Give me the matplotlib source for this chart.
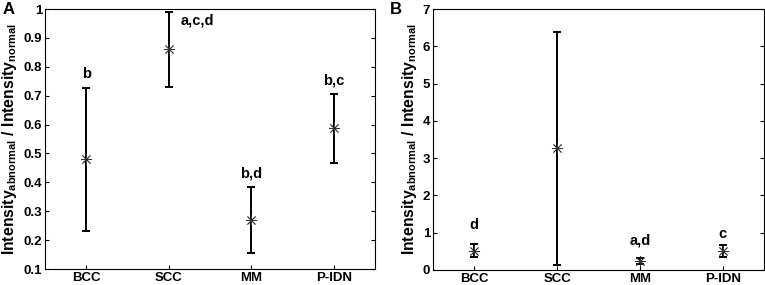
import numpy as np
import matplotlib.pyplot as plt

plt.rcParams['font.family'] = 'Liberation Sans'
plt.rcParams['font.weight'] = 'bold'
plt.rcParams['mathtext.fontset'] = 'custom'
plt.rcParams['mathtext.rm'] = 'Liberation Sans:bold'
plt.rcParams['mathtext.bf'] = 'Liberation Sans:bold'
plt.rcParams['mathtext.it'] = 'Liberation Sans:bold'

groups = ['BCC', 'SCC', 'MM', 'P-IDN']

# panel A
a_mean = [0.48, 0.86, 0.27, 0.587]
a_low = [0.23, 0.73, 0.155, 0.468]
a_high = [0.727, 0.99, 0.385, 0.705]
a_labels = ['b', '', 'b,d', 'b,c']
a_label_y = [0.775, 0, 0.43, 0.752]

# panel B
b_mean = [0.52, 3.27, 0.25, 0.52]
b_low = [0.36, 0.13, 0.17, 0.36]
b_high = [0.70, 6.39, 0.31, 0.68]
b_labels = ['d', '', 'a,d', 'c']
b_label_y = [1.22, 0, 0.8, 0.97]

fig = plt.figure(figsize=(7.65, 2.85), dpi=100)
ax1 = fig.add_axes([45 / 765, 16 / 285, 330 / 765, 260 / 285])
ax2 = fig.add_axes([433 / 765, 15 / 285, 331 / 765, 261 / 285])

ylabel = r'$\mathbf{Intensity_{abnormal}\ /\ Intensity_{normal}}$'
x = np.arange(1, 5)


def draw(ax, mean, low, high, labels, label_y):
    mean = np.array(mean)
    err = [mean - np.array(low), np.array(high) - mean]
    ax.errorbar(x, mean, yerr=err, fmt='none', ecolor='black', elinewidth=1.4,
                capsize=3, capthick=1.4)
    ax.plot(x, mean, linestyle='none', marker=(8, 2, 0), markersize=8,
            color='#333333', markeredgewidth=0.6)
    for xi, lab, ly in zip(x, labels, label_y):
        ax.text(xi, ly, lab, ha='center', va='center', fontsize=10.5, fontweight='bold')
    ax.set_xlim(0.5, 4.5)
    ax.set_xticks(x)
    ax.set_xticklabels(groups)
    ax.tick_params(direction='in', labelsize=9.5, right=True, length=3, width=0.8, pad=2)
    ax.set_ylabel(ylabel, fontsize=11.3, labelpad=3)
    for s in ax.spines.values():
        s.set_linewidth(0.8)


draw(ax1, a_mean, a_low, a_high, a_labels, a_label_y)
ax1.text(2.35, 0.96, 'a,c,d', ha='center', va='center', fontsize=10.5, fontweight='bold')
ax1.set_ylim(0.1, 1.0)
ax1.set_yticks(np.arange(0.1, 1.01, 0.1))
ax1.set_yticklabels(['0.1', '0.2', '0.3', '0.4', '0.5', '0.6', '0.7', '0.8', '0.9', '1'])

draw(ax2, b_mean, b_low, b_high, b_labels, b_label_y)
ax2.set_ylim(0, 7)
ax2.set_yticks(range(0, 8))

fig.text(3 / 765, 1 - 9 / 285, 'A', fontsize=12, fontweight='bold', va='center')
fig.text(390 / 765, 1 - 9 / 285, 'B', fontsize=12, fontweight='bold', va='center')

fig.savefig('out.png', dpi=100)
